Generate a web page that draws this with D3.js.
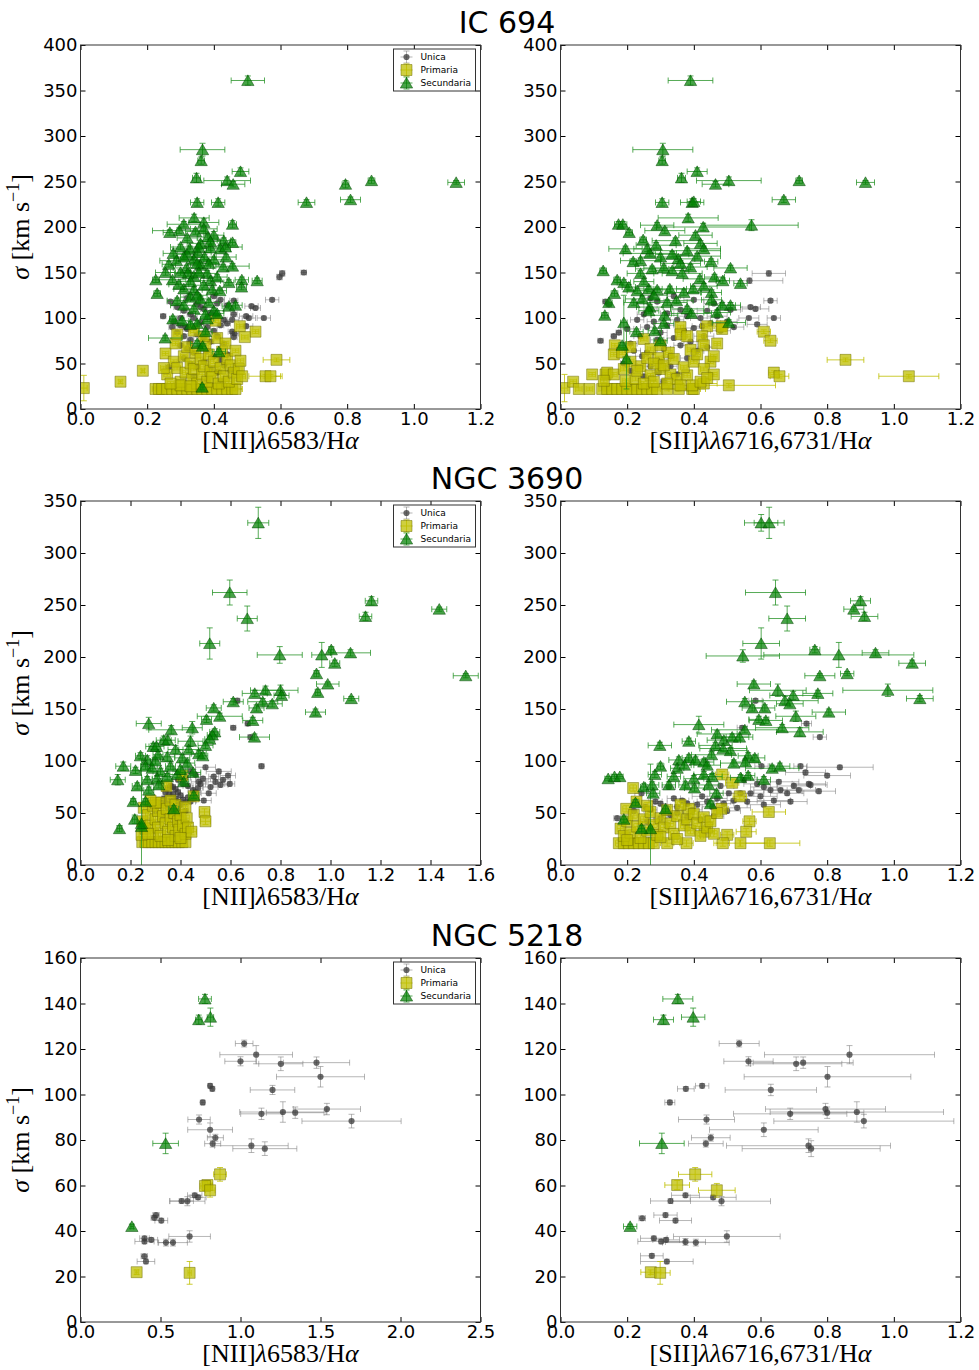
<!DOCTYPE html>
<html>
<head>
<meta charset="utf-8">
<script src="https://cdn.jsdelivr.net/npm/d3@7"></script>
<style>
body { margin: 0; background: #fff; }
</style>
</head>
<body>
<svg id="fig" width="979" height="1370"></svg>
<script>
// points are [x, y, xerr, yerr]
var ic694NiiUni = [[0.605,149,0.008,3],[0.597,145,0.008,3],[0.67,150,0.008,2],[0.575,120,0.02,2],[0.513,113,0.02,2],[0.525,111,0.015,2],[0.55,100,0.02,2],[0.497,102,0.02,2],[0.505,100,0.02,2],[0.455,98,0.02,2],[0.497,91,0.02,2],[0.455,85,0.012,2],[0.462,83,0.012,2],[0.248,102,0.008,2],[0.46,119,0.012,2],[0.42,120,0.012,2],[0.41,116,0.012,2],
  [0.27,118,0.01,2],[0.29,112,0.01,2],[0.31,108,0.01,2],[0.33,104,0.01,2],[0.35,115,0.01,2],[0.37,110,0.01,2],[0.39,106,0.01,2],[0.41,102,0.01,2],[0.43,98,0.01,2],[0.28,96,0.01,2],[0.30,92,0.01,2],[0.32,88,0.01,2],[0.34,100,0.01,2],[0.36,95,0.01,2],[0.38,90,0.01,2],[0.40,86,0.01,2],[0.42,92,0.01,2],[0.44,94,0.01,2],[0.29,84,0.01,2],[0.31,80,0.01,2],[0.33,76,0.01,2],[0.35,82,0.01,2],[0.37,78,0.01,2],[0.39,74,0.01,2],[0.41,80,0.01,2],[0.43,72,0.01,2],[0.30,70,0.01,2],[0.32,66,0.01,2],[0.34,62,0.01,2],[0.36,68,0.01,2],[0.38,64,0.01,2],[0.40,58,0.01,2],[0.42,54,0.01,2],[0.44,60,0.01,2],[0.31,56,0.01,2],[0.33,50,0.01,2],[0.35,46,0.01,2],[0.37,52,0.01,2],[0.39,44,0.01,2],[0.41,40,0.01,2],[0.43,48,0.01,2],[0.45,42,0.01,2],[0.34,36,0.01,2],[0.38,32,0.01,2],[0.42,30,0.01,2],[0.36,112,0.01,2],[0.32,122,0.01,2],[0.40,124,0.01,2],[0.265,46,0.01,2],[0.44,114,0.01,2],[0.46,104,0.01,2],[0.30,100,0.01,2],[0.275,90,0.01,2],[0.328,72,0.01,2],[0.315,90,0.01,2],[0.46,79,0.01,2],[0.415,41,0.01,2]];

var ic694NiiPrim = [[0.225,22,0.01,2],[0.235,22,0.01,2],[0.245,22,0.01,2],[0.26,22,0.01,2],[0.275,22,0.01,2],[0.29,22,0.01,2],[0.305,22,0.01,2],[0.32,22,0.01,2],[0.335,22,0.01,2],[0.35,22,0.01,2],[0.365,22,0.01,2],[0.38,22,0.01,2],[0.395,22,0.01,2],[0.41,22,0.01,2],[0.425,22,0.01,2],[0.44,22,0.01,2],[0.455,22,0.03,2],[0.465,22,0.02,2],
  [0.01,23,0.01,14],[0.12,30,0.005,2],[0.187,42,0.005,2],[0.588,54,0.04,2],[0.555,36,0.05,2],[0.57,36,0.03,2],[0.525,85,0.01,2],[0.478,91,0.01,2],[0.493,79,0.01,2],[0.405,97,0.01,2],
  [0.255,61,0.01,2],[0.26,38,0.01,2],[0.28,52,0.01,2],[0.285,72,0.01,2],[0.29,45,0.01,2],[0.30,30,0.01,2],[0.31,58,0.01,2],[0.315,40,0.01,2],[0.32,68,0.01,2],[0.33,50,0.01,2],[0.335,33,0.01,2],[0.34,44,0.01,2],[0.345,62,0.01,2],[0.35,28,0.01,2],[0.36,55,0.01,2],[0.365,38,0.01,2],[0.37,47,0.01,2],[0.375,70,0.01,2],[0.38,30,0.01,2],[0.385,60,0.01,2],[0.39,42,0.01,2],[0.395,35,0.01,2],[0.40,52,0.01,2],[0.41,78,0.01,2],[0.415,28,0.01,2],[0.42,45,0.01,2],[0.425,63,0.01,2],[0.43,36,0.01,2],[0.435,72,0.01,2],[0.44,55,0.01,2],[0.445,30,0.01,2],[0.45,48,0.01,2],[0.46,40,0.01,2],[0.465,64,0.01,2],[0.47,33,0.01,2],[0.475,44,0.01,2],[0.48,53,0.01,2],[0.485,36,0.01,2],[0.29,82,0.01,2],[0.34,86,0.01,2],[0.37,80,0.01,2],[0.30,26,0.01,2],[0.27,28,0.01,2],[0.25,45,0.01,2],[0.33,25,0.01,2]];

var ic694NiiSec = [[0.502,361,0.05,5],[0.366,285,0.067,7],[0.362,273,0.01,4],[0.48,261,0.025,4],[0.348,254,0.012,5],[0.44,251,0.07,4],[0.458,247,0.035,3],[0.873,251,0.01,3],[0.795,247,0.01,4],[1.127,249,0.025,2],[0.678,227,0.025,3],[0.81,230,0.03,3],[0.35,227,0.02,4],[0.413,227,0.02,4],
  [0.341,210,0.045,4],[0.37,205,0.045,4],[0.456,203,0.012,4],[0.31,203,0.05,3],[0.296,196,0.08,3],[0.268,194,0.02,3],[0.37,198,0.04,3],[0.40,191,0.03,4],[0.382,189,0.03,3],[0.43,185,0.02,3],[0.456,183,0.01,3],[0.36,182,0.04,3],[0.30,178,0.03,3],[0.328,176,0.05,3],[0.39,177,0.04,3],[0.42,176,0.03,3],[0.435,178,0.05,3],[0.278,171,0.03,3],[0.352,172,0.04,3],[0.372,167,0.03,3],[0.40,164,0.03,3],[0.288,163,0.05,3],[0.34,164,0.04,3],[0.437,167,0.03,3],[0.265,159,0.02,3],[0.318,155,0.04,3],[0.36,158,0.03,3],[0.428,156,0.03,3],[0.456,157,0.05,3],[0.255,150,0.03,3],[0.322,149,0.04,3],[0.38,149,0.03,3],[0.226,142,0.01,3],[0.276,142,0.04,3],[0.34,146,0.03,3],[0.39,141,0.03,3],[0.445,139,0.015,3],[0.484,142,0.02,3],[0.53,141,0.015,3],[0.483,134,0.015,3],[0.31,132,0.03,3],[0.34,131,0.04,3],[0.395,131,0.03,3],[0.418,130,0.02,3],[0.23,127,0.01,3],[0.33,123,0.03,3],[0.36,121,0.03,3],[0.29,119,0.03,3],[0.31,114,0.04,3],[0.385,117,0.03,3],[0.445,113,0.02,3],[0.465,114,0.02,3],[0.34,110,0.03,3],[0.40,108,0.03,3],[0.277,99,0.01,3],[0.305,97,0.02,3],[0.35,94,0.02,3],[0.38,99,0.02,3],[0.41,105,0.02,3],[0.254,78,0.05,3],[0.35,72,0.02,3],[0.375,85,0.02,3],[0.415,63,0.02,3],[0.366,69,0.01,3],[0.32,188,0.03,3],[0.35,160,0.03,3],[0.33,140,0.03,3],[0.37,136,0.03,3],[0.32,170,0.03,3],[0.30,150,0.03,3],[0.345,195,0.03,3],[0.365,24,0.005,3],
  [0.355,178,0.03,3],[0.385,160,0.03,3],[0.31,167,0.03,3],[0.355,150,0.03,3],[0.41,145,0.03,3],[0.295,137,0.03,3],[0.35,125,0.03,3],[0.375,104,0.03,3],[0.33,93,0.02,3],[0.39,184,0.03,3]];

var ic694SiiUni = [[0.625,149,0.05,3],[0.567,141,0.1,3],[0.63,119,0.02,2],[0.585,110,0.04,2],[0.565,100,0.03,2],[0.64,100,0.02,2],[0.59,93,0.03,2],[0.12,75,0.008,2],[0.135,118,0.008,2],[0.145,115,0.008,2],[0.16,80,0.008,2],[0.175,84,0.008,2],
  [0.21,72,0.02,2],[0.23,98,0.02,2],[0.26,90,0.02,2],[0.29,76,0.02,2],[0.245,58,0.02,2],[0.27,47,0.02,2],[0.295,40,0.02,2],[0.33,47,0.02,2],[0.29,118,0.02,2],[0.32,105,0.02,2],[0.36,109,0.03,2],[0.38,102,0.03,2],[0.40,89,0.03,2],[0.425,91,0.03,2],[0.46,116,0.03,2],[0.47,102,0.03,2],[0.51,109,0.03,2],[0.57,112,0.03,2],[0.20,88,0.02,2],[0.22,64,0.02,2],[0.24,80,0.02,2],[0.25,104,0.02,2],[0.27,110,0.02,2],[0.28,96,0.02,2],[0.30,84,0.02,2],[0.31,66,0.02,2],[0.32,92,0.02,2],[0.33,58,0.02,2],[0.34,78,0.02,2],[0.35,98,0.02,2],[0.36,70,0.02,2],[0.37,86,0.02,2],[0.38,56,0.02,2],[0.39,74,0.02,2],[0.41,64,0.02,2],[0.42,100,0.03,2],[0.43,80,0.03,2],[0.44,68,0.03,2],[0.45,94,0.03,2],[0.48,86,0.03,2],[0.50,96,0.03,2],[0.52,90,0.03,2],[0.19,50,0.01,2],[0.21,42,0.01,2],[0.25,36,0.01,2],[0.31,30,0.01,2],[0.35,38,0.02,2],[0.27,122,0.02,2],[0.34,124,0.02,2],[0.40,120,0.03,2],[0.44,108,0.03,2],[0.30,52,0.02,2],[0.26,62,0.02,2]];

var ic694SiiPrim = [[0.125,22,0.01,2],[0.14,22,0.01,2],[0.155,22,0.01,2],[0.17,22,0.01,2],[0.185,22,0.01,2],[0.2,22,0.01,2],[0.215,22,0.01,2],[0.23,22,0.01,2],[0.245,22,0.01,2],[0.26,22,0.01,2],[0.275,22,0.01,2],[0.29,22,0.01,2],[0.32,22,0.03,2],[0.355,22,0.03,2],[0.395,22,0.04,2],[0.40,22,0.02,2],
  [0.012,23,0.01,15],[0.038,30,0.01,2],[0.055,22,0.01,2],[0.087,22,0.01,2],[0.095,38,0.01,2],[0.135,38,0.01,2],[0.14,40,0.01,2],[0.855,54,0.055,2],[1.045,36,0.09,2],[0.61,85,0.02,2],[0.63,75,0.02,2],[0.64,40,0.015,2],[0.657,36,0.028,2],[0.505,26,0.14,2],[0.43,28,0.04,2],[0.44,91,0.02,2],[0.483,91,0.02,2],[0.163,70,0.01,2],
  [0.16,60,0.01,2],[0.185,62,0.01,2],[0.21,68,0.01,2],[0.25,77,0.01,2],[0.27,66,0.01,2],[0.295,56,0.01,2],[0.325,62,0.01,2],[0.36,90,0.01,2],[0.36,82,0.01,2],[0.38,80,0.01,2],[0.39,65,0.01,2],[0.425,80,0.01,2],[0.43,70,0.01,2],[0.45,52,0.01,2],[0.47,72,0.01,2],[0.485,88,0.01,2],[0.24,47,0.01,2],[0.27,37,0.01,2],[0.30,44,0.01,2],[0.33,38,0.01,2],[0.35,33,0.01,2],[0.38,37,0.01,2],[0.395,26,0.01,2],[0.42,30,0.01,2],[0.16,38,0.01,2],[0.13,31,0.01,2],[0.195,31,0.01,2],[0.225,33,0.01,2],[0.21,52,0.01,2],[0.23,42,0.01,2],[0.26,56,0.01,2],[0.28,50,0.01,2],[0.31,48,0.01,2],[0.34,55,0.01,2],[0.37,46,0.01,2],[0.40,52,0.01,2],[0.43,44,0.01,2],[0.46,38,0.01,2],[0.30,70,0.01,2],[0.32,28,0.01,2],[0.36,26,0.01,2],[0.44,34,0.01,2],[0.19,44,0.01,2],[0.25,28,0.01,2],[0.28,30,0.01,2],[0.41,60,0.01,2],[0.46,58,0.01,2]];

var ic694SiiSec = [[0.39,361,0.067,5],[0.307,285,0.09,7],[0.305,273,0.01,4],[0.41,261,0.03,4],[0.363,254,0.012,5],[0.505,251,0.097,4],[0.465,247,0.04,3],[0.716,251,0.01,3],[0.915,249,0.027,2],[0.67,230,0.035,3],[0.305,227,0.02,4],[0.395,227,0.035,4],[0.40,228,0.02,3],
  [0.383,210,0.09,4],[0.29,202,0.05,3],[0.174,203,0.012,3],[0.187,203,0.012,3],[0.428,200,0.14,4],[0.573,202,0.14,6],[0.313,196,0.06,3],[0.206,194,0.01,3],[0.248,186,0.01,3],[0.405,191,0.05,3],[0.345,185,0.07,3],[0.42,182,0.05,3],[0.195,176,0.05,3],[0.287,180,0.06,3],[0.38,174,0.1,3],[0.43,176,0.05,3],[0.268,171,0.08,3],[0.30,167,0.06,3],[0.24,163,0.06,3],[0.353,165,0.05,3],[0.218,162,0.01,3],[0.41,168,0.07,3],[0.452,162,0.02,3],[0.51,155,0.05,3],[0.128,152,0.01,3],[0.275,154,0.05,3],[0.31,155,0.06,3],[0.335,152,0.05,3],[0.365,149,0.06,3],[0.17,142,0.01,3],[0.19,139,0.02,3],[0.24,149,0.04,3],[0.462,145,0.03,3],[0.487,141,0.02,3],[0.54,138,0.02,3],[0.418,143,0.05,3],[0.265,132,0.04,3],[0.29,131,0.04,3],[0.328,132,0.05,3],[0.398,132,0.05,3],[0.162,127,0.01,3],[0.205,134,0.02,3],[0.23,130,0.03,3],[0.453,128,0.03,3],[0.145,117,0.01,3],[0.245,121,0.05,3],[0.22,117,0.03,3],[0.32,117,0.06,3],[0.348,119,0.05,3],[0.453,120,0.03,3],[0.51,114,0.03,3],[0.485,114,0.04,3],[0.268,112,0.04,3],[0.38,110,0.05,3],[0.133,103,0.01,3],[0.19,95,0.01,30],[0.265,108,0.03,3],[0.312,103,0.04,3],[0.393,105,0.06,3],[0.47,106,0.04,3],[0.505,95,0.05,3],[0.228,85,0.02,3],[0.31,94,0.03,3],[0.283,86,0.02,3],[0.185,70,0.01,3],[0.198,55,0.01,33],[0.30,75,0.02,3],
  [0.335,170,0.05,3],[0.36,160,0.06,3],[0.26,176,0.04,3],[0.39,156,0.05,3],[0.25,140,0.03,3],[0.37,128,0.05,3],[0.43,135,0.04,3],[0.28,125,0.04,3]];

var ngc3690NiiUni = [[0.34,70,0.01,2],[0.35,74,0.01,2],[0.36,76,0.01,2],[0.37,75,0.01,2],[0.38,73,0.01,2],[0.39,70,0.01,2],[0.40,67,0.01,2],[0.41,63,0.01,2],[0.40,58,0.01,2],[0.39,55,0.01,2],[0.37,53,0.01,2],[0.35,55,0.01,2],[0.34,59,0.01,2],[0.335,64,0.01,2],[0.36,62,0.01,2],[0.38,64,0.01,2],[0.37,68,0.01,2],[0.355,68,0.01,2],[0.39,61,0.01,2],[0.42,60,0.01,2],[0.43,65,0.02,2],[0.44,61,0.02,2],[0.453,64,0.02,2],[0.46,70,0.02,2],[0.47,74,0.02,2],[0.48,78,0.02,2],[0.49,83,0.03,2],[0.473,80,0.03,2],[0.493,62,0.03,2],[0.513,69,0.03,2],[0.50,94,0.04,2],[0.533,85,0.02,2],[0.553,90,0.05,2],[0.56,77,0.03,2],[0.59,86,0.03,2],[0.597,78,0.02,2],[0.57,82,0.03,2],[0.52,75,0.03,2],[0.54,80,0.03,2],[0.45,72,0.02,2],[0.43,76,0.02,2],[0.41,78,0.02,2],[0.39,82,0.02,2],[0.42,84,0.02,2],[0.46,87,0.02,2],[0.44,90,0.02,2],[0.33,48,0.01,2],[0.36,46,0.01,2],[0.38,43,0.01,2],[0.40,48,0.01,2],[0.42,52,0.01,2],[0.32,60,0.01,2],[0.30,52,0.01,2],[0.724,95,0.01,2],[0.611,132,0.01,2],[0.669,136,0.01,2],[0.68,123,0.01,2],[0.627,158,0.01,2]];

var ngc3690NiiPrim = [[0.247,22,0.005,4],[0.26,22,0.005,4],[0.273,22,0.005,4],[0.287,22,0.005,4],[0.30,22,0.005,4],[0.313,22,0.005,4],[0.327,22,0.005,4],[0.34,22,0.005,4],[0.353,22,0.005,4],[0.367,22,0.005,4],[0.38,22,0.005,4],[0.393,22,0.005,4],[0.407,22,0.005,4],[0.42,22,0.005,4],
  [0.253,55,0.01,3],[0.247,42,0.01,3],[0.244,29,0.01,3],[0.26,35,0.01,3],[0.27,48,0.01,3],[0.28,38,0.01,3],[0.29,57,0.01,3],[0.29,30,0.01,3],[0.30,44,0.01,3],[0.31,52,0.01,3],[0.31,36,0.01,3],[0.32,60,0.01,3],[0.32,28,0.01,3],[0.33,47,0.01,3],[0.34,40,0.01,3],[0.345,54,0.01,3],[0.35,32,0.01,3],[0.36,62,0.01,3],[0.36,44,0.01,3],[0.37,36,0.01,3],[0.375,50,0.01,3],[0.38,28,0.01,3],[0.39,42,0.01,3],[0.395,34,0.01,3],[0.40,48,0.01,3],[0.41,38,0.01,3],[0.42,30,0.01,3],[0.425,45,0.01,3],[0.43,36,0.01,3],[0.444,32,0.02,3],[0.453,66,0.02,3],[0.496,51,0.02,3],[0.50,42,0.02,3],[0.344,76,0.01,3],[0.407,86,0.01,3],[0.30,60,0.01,3],[0.28,62,0.01,3],[0.38,58,0.01,3],[0.42,56,0.01,3],[0.27,30,0.01,3],[0.35,24,0.01,3],[0.40,26,0.01,3]];

var ngc3690NiiSec = [[0.711,329,0.042,15],[0.597,262,0.069,12],[0.667,237,0.04,12],[0.517,213,0.04,15],[1.164,254,0.025,4],[1.14,239,0.025,4],[1.435,246,0.03,2],[1.541,182,0.05,2],[0.797,202,0.09,8],[0.965,202,0.04,12],[1.003,207,0.01,3],[1.08,204,0.08,3],[1.017,194,0.02,3],[0.944,184,0.01,3],[0.989,174,0.045,2],[0.949,166,0.01,3],[1.083,160,0.03,2],[0.94,147,0.04,3],[0.697,165,0.05,3],[0.74,168,0.06,4],[0.80,168,0.07,5],[0.804,163,0.03,3],[0.729,157,0.06,3],[0.767,155,0.04,3],[0.704,151,0.03,3],[0.611,157,0.04,3],[0.533,151,0.03,3],[0.504,140,0.02,3],[0.557,143,0.09,3],[0.689,139,0.04,3],[0.696,123,0.06,3],[0.273,136,0.05,6],[0.363,130,0.09,4],[0.447,132,0.04,6],[0.537,128,0.02,3],[0.527,125,0.02,3],[0.517,121,0.02,3],[0.50,115,0.03,3],[0.44,119,0.05,5],[0.333,120,0.03,4],[0.349,120,0.03,4],[0.291,114,0.03,3],[0.304,114,0.03,3],[0.38,111,0.03,4],[0.433,111,0.04,3],[0.473,107,0.03,3],[0.489,105,0.02,3],[0.267,101,0.02,4],[0.347,104,0.03,4],[0.407,103,0.03,3],[0.427,98,0.03,3],[0.171,95,0.03,4],[0.22,91,0.02,3],[0.149,82,0.03,5],[0.26,95,0.02,3],[0.287,93,0.02,3],[0.32,90,0.03,3],[0.387,87,0.03,3],[0.451,89,0.03,3],[0.227,76,0.02,3],[0.267,82,0.02,3],[0.307,83,0.02,3],[0.347,85,0.02,3],[0.413,80,0.02,3],[0.313,77,0.02,3],[0.273,72,0.02,3],[0.211,61,0.01,3],[0.26,61,0.01,3],[0.373,54,0.02,3],[0.453,67,0.02,3],[0.217,44,0.01,4],[0.244,37,0.01,3],[0.156,35,0.01,3],[0.244,40,0.005,62],[0.30,100,0.02,3],[0.24,105,0.02,3],[0.31,106,0.02,3],[0.36,95,0.02,3],[0.40,92,0.03,3]];

var ngc3690SiiUni = [[0.838,94,0.1,2],[0.778,123,0.02,2],[0.738,136,0.015,2],[0.585,158,0.02,2],[0.545,132,0.015,2],[0.72,95,0.02,2],[0.80,86,0.07,2],[0.745,78,0.05,2],[0.735,89,0.06,2],[0.70,76,0.05,2],[0.68,69,0.05,2],[0.655,80,0.06,2],[0.63,72,0.05,2],[0.61,75,0.04,2],[0.60,66,0.05,2],[0.59,78,0.04,2],[0.57,69,0.04,2],[0.56,61,0.05,2],[0.54,69,0.04,2],[0.52,62,0.04,2],[0.505,69,0.03,2],[0.49,59,0.03,2],[0.47,64,0.03,2],[0.455,56,0.03,2],[0.44,61,0.03,2],[0.425,66,0.03,2],[0.41,58,0.03,2],[0.395,53,0.03,2],[0.38,59,0.02,2],[0.365,62,0.02,2],[0.35,56,0.02,2],[0.34,64,0.02,2],[0.325,75,0.02,2],[0.30,59,0.02,2],[0.285,61,0.02,2],[0.27,53,0.02,2],[0.255,56,0.02,2],[0.243,69,0.02,2],[0.26,42,0.02,2],[0.30,45,0.02,2],[0.33,48,0.02,2],[0.35,50,0.02,2],[0.17,45,0.01,2],[0.61,58,0.05,2],[0.64,62,0.05,2],[0.66,72,0.05,2],[0.69,61,0.05,2],[0.715,72,0.05,2],[0.75,77,0.05,2],[0.775,71,0.05,2],[0.603,95,0.02,2],[0.46,47,0.03,2],[0.42,44,0.03,2],[0.38,46,0.02,2],[0.22,52,0.01,2],[0.50,52,0.04,2],[0.53,55,0.04,2],[0.55,82,0.04,2],[0.48,76,0.04,2]];

var ngc3690SiiPrim = [[0.218,74,0.01,3],[0.228,61,0.01,3],[0.197,54,0.01,3],[0.485,87,0.02,3],[0.515,79,0.02,3],[0.538,66,0.02,3],[0.483,54,0.02,3],[0.385,54,0.02,3],[0.625,51,0.05,3],[0.567,42,0.02,3],[0.557,32,0.03,3],[0.432,32,0.03,3],[0.50,29,0.02,3],[0.487,21,0.02,3],[0.54,21,0.08,3],[0.628,21,0.09,3],[0.378,21,0.02,3],[0.32,21,0.02,3],
  [0.175,21,0.01,3],[0.19,21,0.01,3],[0.205,21,0.01,3],[0.22,21,0.01,3],[0.235,21,0.01,3],[0.25,21,0.01,3],[0.265,21,0.01,3],[0.28,21,0.01,3],
  [0.18,35,0.01,3],[0.19,28,0.01,3],[0.2,42,0.01,3],[0.21,31,0.01,3],[0.22,48,0.01,3],[0.23,37,0.01,3],[0.24,26,0.01,3],[0.25,44,0.01,3],[0.26,33,0.01,3],[0.27,51,0.01,3],[0.28,39,0.01,3],[0.29,29,0.01,3],[0.30,45,0.01,3],[0.31,36,0.01,3],[0.32,53,0.01,3],[0.33,40,0.01,3],[0.34,30,0.01,3],[0.35,47,0.01,3],[0.36,58,0.01,3],[0.37,38,0.01,3],[0.38,44,0.01,3],[0.39,33,0.01,3],[0.40,49,0.01,3],[0.41,40,0.01,3],[0.42,28,0.01,3],[0.43,46,0.01,3],[0.44,36,0.01,3],[0.45,42,0.01,3],[0.46,30,0.01,3],[0.47,50,0.01,3],[0.26,57,0.01,3],[0.30,27,0.01,3],[0.35,25,0.01,3],[0.20,24,0.01,3]];

var ngc3690SiiSec = [[0.602,329,0.05,8],[0.626,329,0.045,15],[0.645,262,0.09,12],[0.68,237,0.055,12],[0.602,213,0.055,15],[0.90,254,0.03,4],[0.88,246,0.03,2],[0.912,239,0.04,4],[1.055,194,0.04,3],[1.078,160,0.04,3],[0.945,204,0.04,3],[0.835,202,0.225,12],[0.547,201,0.11,6],[0.763,207,0.015,3],[0.86,184,0.02,2],[0.778,182,0.045,2],[0.982,168,0.135,6],[0.772,165,0.045,3],[0.805,147,0.05,3],[0.58,174,0.05,3],[0.652,168,0.085,6],[0.698,163,0.07,4],[0.553,157,0.055,3],[0.673,158,0.1,4],[0.688,155,0.04,3],[0.575,151,0.03,3],[0.613,151,0.03,3],[0.706,143,0.06,5],[0.595,140,0.03,3],[0.616,139,0.05,3],[0.415,135,0.075,8],[0.665,132,0.08,3],[0.718,128,0.07,4],[0.553,130,0.1,3],[0.47,126,0.06,3],[0.49,120,0.05,3],[0.515,123,0.05,3],[0.537,123,0.04,3],[0.385,119,0.02,3],[0.298,115,0.035,3],[0.465,115,0.05,3],[0.488,112,0.07,3],[0.51,110,0.05,3],[0.453,106,0.06,3],[0.563,105,0.03,3],[0.583,103,0.03,3],[0.385,103,0.02,3],[0.405,101,0.03,3],[0.355,101,0.03,3],[0.43,99,0.03,3],[0.52,98,0.04,3],[0.555,99,0.04,3],[0.30,95,0.01,3],[0.35,93,0.02,3],[0.372,96,0.02,3],[0.635,93,0.08,3],[0.658,95,0.03,3],[0.44,96,0.04,3],[0.143,83,0.01,2],[0.162,85,0.01,2],[0.178,85,0.01,2],[0.283,87,0.02,3],[0.34,85,0.02,3],[0.40,83,0.03,3],[0.43,87,0.03,3],[0.455,85,0.03,3],[0.54,84,0.03,3],[0.563,86,0.02,3],[0.61,82,0.02,3],[0.25,75,0.01,3],[0.275,77,0.02,3],[0.325,77,0.02,3],[0.375,77,0.02,3],[0.402,74,0.03,3],[0.445,77,0.03,3],[0.468,69,0.02,3],[0.278,69,0.02,3],[0.19,44,0.01,3],[0.225,60,0.01,3],[0.315,54,0.01,3],[0.27,35,0.005,62],[0.243,35,0.01,3],[0.45,59,0.01,3]];

var ngc5218NiiUni = [[1.023,122.4,0.055,1.5],[1.098,117.5,0.227,4],[1.0,114.6,0.098,2],[1.252,113.5,0.138,3],[1.475,114,0.207,2.5],[1.50,107.8,0.275,4.5],[0.81,103.8,0.01,1],[0.824,102.5,0.01,1],[1.20,102,0.139,2],[0.764,96.5,0.01,1],[1.131,91.5,0.13,2.5],[1.265,92.3,0.27,4.5],[1.342,92,0.18,2.5],[1.54,93.6,0.21,2.5],[1.694,88.3,0.31,3],[0.741,89,0.07,2],[0.81,84.5,0.14,3],[0.843,81,0.05,1.5],[0.826,78.4,0.05,1.5],[1.068,77.5,0.23,3],[1.152,76.2,0.2,3],[0.714,55.7,0.045,1],[0.735,54.8,0.05,1],[0.632,53.2,0.074,1],[0.668,53.1,0.11,2],[0.472,47,0.02,1],[0.461,45.8,0.02,1],[0.505,44.6,0.04,1],[0.40,36.8,0.03,1],[0.40,35.4,0.06,1],[0.442,36.1,0.04,1],[0.534,34.9,0.05,1.5],[0.578,34.9,0.09,1.5],[0.682,37.6,0.13,2.5],[0.399,28.9,0.02,1],[0.409,26.6,0.055,1]];
var ngc5218NiiPrim = [[0.872,64.9,0.04,3],[0.793,60.2,0.03,2],[0.778,59.8,0.03,2],[0.81,57.9,0.03,3],[0.351,21.9,0.01,1],[0.682,21.6,0.01,5]];
var ngc5218NiiSec = [[0.778,142,0.04,2],[0.739,132.9,0.02,2],[0.812,134,0.02,4],[0.532,78.5,0.08,4.5],[0.321,42,0.01,1]];

var ngc5218SiiUni = [[0.536,122.4,0.06,1.5],[0.867,117.5,0.255,4],[0.564,114.6,0.074,2],[0.707,113.5,0.137,3],[0.728,114,0.15,2.5],[0.801,107.8,0.25,4.5],[0.425,103.8,0.02,1],[0.376,102.5,0.025,1],[0.631,102,0.137,2.5],[0.328,96.5,0.015,1],[0.689,91.5,0.17,2.5],[0.80,92,0.11,2.5],[0.795,93.6,0.18,2.5],[0.889,92.3,0.26,4.5],[0.91,88.3,0.27,3],[0.438,89,0.084,2],[0.61,84.5,0.163,3],[0.451,81,0.058,1.5],[0.436,78.4,0.052,1.5],[0.744,77.5,0.246,3],[0.752,76.2,0.207,3.5],[0.375,55.7,0.042,1],[0.458,54.8,0.069,1],[0.33,53.2,0.06,1],[0.483,53.1,0.147,2],[0.315,47,0.035,1],[0.245,45.6,0.01,1],[0.345,44.6,0.048,1],[0.28,36.8,0.04,1],[0.317,36.1,0.04,1],[0.302,35.4,0.07,1],[0.375,35.2,0.06,1.5],[0.406,34.9,0.1,1.5],[0.499,37.6,0.16,2.5],[0.274,29.1,0.034,1],[0.319,26.6,0.079,1]];
var ngc5218SiiPrim = [[0.404,64.9,0.05,3],[0.35,60.2,0.037,2],[0.469,57.9,0.055,3],[0.271,21.9,0.03,1],[0.299,21.6,0.03,5]];
var ngc5218SiiSec = [[0.352,142,0.045,2],[0.309,132.9,0.03,2],[0.398,134,0.035,4],[0.304,78.5,0.067,4.5],[0.209,42,0.02,1]];

var legendLabels = ["Unica", "Primaria", "Secundaria"];
var galaxyTitles = ["IC 694", "NGC 3690", "NGC 5218"];
var yMax = [400, 350, 160];
var yStep = [50, 50, 20];
var niiMax = [1.2, 1.6, 2.5];
var niiStep = [0.2, 0.2, 0.5];
var siiMax = [1.2, 1.2, 1.2];
var siiStep = [0.2, 0.2, 0.2];

var svg = d3.select("#fig");
var pw = 400, ph = 364;
var rowTop = [45, 501, 958];
var colLeft = [80.5, 560.5];
var sans = "'DejaVu Sans', sans-serif";
var serif = "'Liberation Serif', 'DejaVu Serif', serif";

var styles = {
  uni: { fill: "#3a3a3a", fillOp: 0.75, stroke: "none", err: "#7a7a7a", errOp: 0.55, sym: d3.symbolCircle, size: 30 },
  prim: { fill: "#bfbf00", fillOp: 0.75, stroke: "#6b6b00", err: "#bfbf00", errOp: 0.8, sym: d3.symbolSquare, size: 121 },
  sec: { fill: "#008000", fillOp: 0.72, stroke: "#004400", err: "#1f8f1f", errOp: 0.75, sym: d3.symbolTriangle, size: 66 }
};

var clipId = 0;

var drawErrors = function(g, pts, x, y, st) {
  var cap = 3;
  var e = g.append("g").attr("stroke", st.err).attr("stroke-opacity", st.errOp).attr("stroke-width", 1).attr("fill", "none");
  pts.forEach(function(d) {
    var cx = x(d[0]), cy = y(d[1]);
    var x0 = x(d[0] - d[2]), x1 = x(d[0] + d[2]);
    var y0 = y(d[1] - d[3]), y1 = y(d[1] + d[3]);
    e.append("path").attr("d",
      "M" + x0 + "," + cy + "H" + x1 +
      "M" + x0 + "," + (cy - cap) + "V" + (cy + cap) +
      "M" + x1 + "," + (cy - cap) + "V" + (cy + cap) +
      "M" + cx + "," + y0 + "V" + y1 +
      "M" + (cx - cap) + "," + y0 + "H" + (cx + cap) +
      "M" + (cx - cap) + "," + y1 + "H" + (cx + cap));
  });
};

var drawMarkers = function(g, pts, x, y, st) {
  var sym = d3.symbol().type(st.sym).size(st.size);
  g.append("g").selectAll("path").data(pts).enter().append("path")
    .attr("d", sym)
    .attr("transform", function(d) {
      var dy = st.sym === d3.symbolTriangle ? 1.5 : 0;
      return "translate(" + x(d[0]) + "," + (y(d[1]) + dy) + ")";
    })
    .attr("fill", st.fill).attr("fill-opacity", st.fillOp)
    .attr("stroke", st.stroke).attr("stroke-width", 0.8).attr("stroke-opacity", 0.6);
};

var drawLegend = function(g) {
  var lx = pw - 87, ly = 4;
  var lg = g.append("g").attr("transform", "translate(" + lx + "," + ly + ")");
  lg.append("rect").attr("width", 82).attr("height", 42).attr("fill", "#fff").attr("stroke", "#333").attr("stroke-width", 1);
  var keys = ["uni", "prim", "sec"];
  keys.forEach(function(k, i) {
    var st = styles[k], cy = 8 + i * 13, cx = 13;
    var eg = lg.append("g").attr("stroke", st.err).attr("stroke-opacity", st.errOp);
    eg.append("path").attr("d", "M" + (cx - 6) + "," + cy + "H" + (cx + 6) + "M" + cx + "," + (cy - 6) + "V" + (cy + 6) +
      "M" + (cx - 3) + "," + (cy - 6) + "H" + (cx + 3) + "M" + (cx - 3) + "," + (cy + 6) + "H" + (cx + 3));
    lg.append("path").attr("d", d3.symbol().type(st.sym).size(st.size)())
      .attr("transform", "translate(" + cx + "," + (cy + (k === "sec" ? 1.5 : 0)) + ")")
      .attr("fill", st.fill).attr("fill-opacity", st.fillOp)
      .attr("stroke", st.stroke).attr("stroke-width", 0.8).attr("stroke-opacity", 0.6);
    lg.append("text").attr("x", 27).attr("y", cy + 3.3).style("font-family", sans).style("font-size", "9px").text(legendLabels[i]);
  });
};

var drawPanel = function(row, col, series, xmax, xstep, withLegend) {
  var g = svg.append("g").attr("transform", "translate(" + colLeft[col] + "," + rowTop[row] + ")");
  var x = d3.scaleLinear().domain([0, xmax]).range([0, pw]);
  var y = d3.scaleLinear().domain([0, yMax[row]]).range([ph, 0]);
  var xt = d3.range(0, xmax + 1e-9, xstep);
  var yt = d3.range(0, yMax[row] + 1e-9, yStep[row]);
  var cid = "clip" + (clipId++);
  g.append("clipPath").attr("id", cid).append("rect").attr("width", pw).attr("height", ph);
  var plot = g.append("g").attr("clip-path", "url(#" + cid + ")");

  ["uni", "prim", "sec"].forEach(function(k) {
    drawErrors(plot, series[k], x, y, styles[k]);
    drawMarkers(plot, series[k], x, y, styles[k]);
  });

  var styleAxis = function(a) {
    a.select(".domain").remove();
    a.selectAll("line").attr("stroke", "#000");
    a.selectAll("text").style("font-size", "18px").style("font-family", sans).attr("fill", "#000");
  };
  g.append("g").attr("transform", "translate(0," + ph + ")")
    .call(d3.axisBottom(x).tickValues(xt).tickFormat(d3.format(".1f")).tickSizeInner(-5).tickSizeOuter(0).tickPadding(3)).call(styleAxis);
  g.append("g").call(d3.axisTop(x).tickValues(xt).tickFormat("").tickSizeInner(-5).tickSizeOuter(0)).call(styleAxis);
  g.append("g").call(d3.axisLeft(y).tickValues(yt).tickFormat(d3.format("d")).tickSizeInner(-5).tickSizeOuter(0).tickPadding(3)).call(styleAxis);
  g.append("g").attr("transform", "translate(" + pw + ",0)")
    .call(d3.axisRight(y).tickValues(yt).tickFormat("").tickSizeInner(-5).tickSizeOuter(0)).call(styleAxis);
  g.append("rect").attr("width", pw).attr("height", ph).attr("fill", "none").attr("stroke", "#333").attr("stroke-width", 1);

  // axis labels in serif, like mathtext
  var xl = g.append("text").attr("x", pw / 2).attr("y", ph + 40).attr("text-anchor", "middle")
    .style("font-family", serif).style("font-size", "26px");
  if (col === 0) {
    xl.append("tspan").text("[NII]");
    xl.append("tspan").style("font-style", "italic").text("λ");
    xl.append("tspan").text("6583/H");
    xl.append("tspan").style("font-style", "italic").text("α");
  } else {
    xl.append("tspan").text("[SII]");
    xl.append("tspan").style("font-style", "italic").text("λλ");
    xl.append("tspan").text("6716,6731/H");
    xl.append("tspan").style("font-style", "italic").text("α");
  }
  if (col === 0) {
    var yl = g.append("text").attr("transform", "translate(-52," + (ph / 2) + ") rotate(-90)")
      .attr("text-anchor", "middle").style("font-family", serif).style("font-size", "26px");
    yl.append("tspan").style("font-style", "italic").text("σ");
    yl.append("tspan").text(" [km s");
    yl.append("tspan").style("font-size", "18px").attr("dy", -10).text("−1");
    yl.append("tspan").attr("dy", 10).text("]");
  }
  if (withLegend) drawLegend(g);
};

var data = [
  [{ uni: ic694NiiUni, prim: ic694NiiPrim, sec: ic694NiiSec }, { uni: ic694SiiUni, prim: ic694SiiPrim, sec: ic694SiiSec }],
  [{ uni: ngc3690NiiUni, prim: ngc3690NiiPrim, sec: ngc3690NiiSec }, { uni: ngc3690SiiUni, prim: ngc3690SiiPrim, sec: ngc3690SiiSec }],
  [{ uni: ngc5218NiiUni, prim: ngc5218NiiPrim, sec: ngc5218NiiSec }, { uni: ngc5218SiiUni, prim: ngc5218SiiPrim, sec: ngc5218SiiSec }]
];

galaxyTitles.forEach(function(t, r) {
  svg.append("text").attr("x", 507).attr("y", rowTop[r] - 12).attr("text-anchor", "middle")
    .style("font-size", "30px").style("font-family", sans).text(t);
  drawPanel(r, 0, data[r][0], niiMax[r], niiStep[r], true);
  drawPanel(r, 1, data[r][1], siiMax[r], siiStep[r], false);
});
</script>
</body>
</html>
